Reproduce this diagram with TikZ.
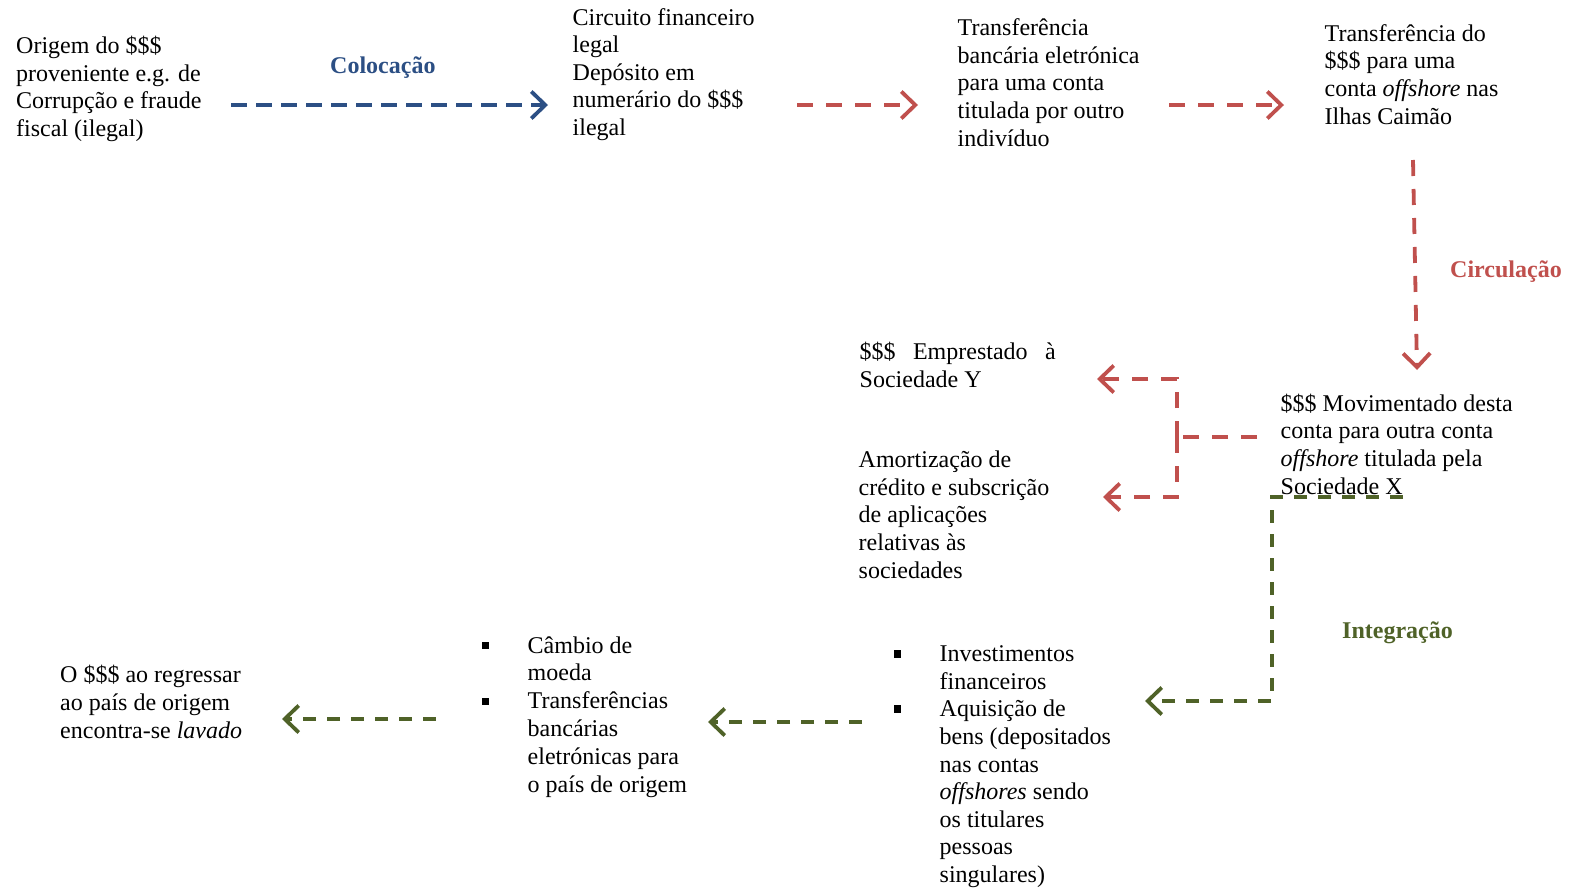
\documentclass[tikz,border=0pt]{standalone}
\usepackage{fontspec}
\setmainfont{Liberation Serif}
\usetikzlibrary{arrows.meta}
\definecolor{cblue}{HTML}{2C4F84}
\definecolor{cred}{HTML}{C0504D}
\definecolor{cgreen}{HTML}{4F6228}
\newcommand\bulA{\llap{\raisebox{4pt}{\rule{7pt}{7.5pt}}\hspace{39pt}}}
\newcommand\bulB{\llap{\raisebox{3.7pt}{\rule{7pt}{7.5pt}}\hspace{39pt}}}
\begin{document}
\begin{tikzpicture}[x=1pt,y=-1pt,
  txt/.style={anchor=base west, inner sep=0pt, align=left, font=\fontsize{24}{27.6}\selectfont},
  lbl/.style={anchor=base west, inner sep=0pt, font=\fontsize{24}{27.6}\selectfont\bfseries},
  arr/.style={line width=3.8pt, -{Straight Barb[length=14pt,width=27pt]}},
  bluedash/.style={cblue, dash pattern=on 16pt off 9pt},
  reddash/.style={cred, dash pattern=on 16pt off 13pt},
  greendash/.style={cgreen, dash pattern=on 13pt off 11pt}]
\useasboundingbox (0,0) rectangle (1573,889);

% texts (anchored at the baseline of their last line)
\node[txt] (orig) at (16,136.5) {Origem do \$\$\$\\proveniente e.g. de\\Corrupção e fraude\\fiscal (ilegal)};
\node[txt] (circ) at (572.5,135.5) {Circuito financeiro\\legal\\Depósito em\\numerário do \$\$\$\\ilegal};
\node[txt] (transf) at (957.5,146) {Transferência\\bancária eletrónica\\para uma conta\\titulada por outro\\indivíduo};
\node[txt] (cayman) at (1324.5,124) {Transferência do\\\$\$\$ para uma\\conta \textit{offshore} nas\\Ilhas Caimão};
\node[txt] (emp) at (859.5,387) {\makebox[196pt][s]{\$\$\$ Emprestado à}\\Sociedade Y};
\node[txt] (mov) at (1280.5,494) {\$\$\$ Movimentado desta\\conta para outra conta\\\textit{offshore} titulada pela\\Sociedade X};
\node[txt] (amort) at (858.5,578) {Amortização de\\crédito e subscrição\\de aplicações\\relativas às\\sociedades};
\node[txt] (invest) at (939.5,882.5) {\bulA Investimentos\\financeiros\\\bulA Aquisição de\\bens (depositados\\nas contas\\\textit{offshores} sendo\\os titulares\\pessoas\\singulares)};
\node[txt, font=\fontsize{24}{27.9}\selectfont] (cambio) at (527.5,792.5) {\bulB Câmbio de\\moeda\\\bulB Transferências\\bancárias\\eletrónicas para\\o país de origem};
\node[txt] (lavado) at (60,738) {O \$\$\$ ao regressar\\ao país de origem\\encontra-se \textit{lavado}};

% stage labels
\node[lbl, text=cblue] (coloc) at (330,73) {Colocação};
\node[lbl, text=cred] (circul) at (1450,277.5) {Circulação};
\node[lbl, text=cgreen] (integ) at (1342,638) {Integração};

% connector end points
\coordinate (b1s) at (231,105);  \coordinate (b1e) at (548,105);
\coordinate (r1s) at (797,105);  \coordinate (r1e) at (918,105);
\coordinate (r2s) at (1169,105); \coordinate (r2e) at (1284,105);
\coordinate (r3s) at (1413,160); \coordinate (r3e) at (1417,370);
\coordinate (r4s) at (1257,437); \coordinate (rj) at (1177,437);
\coordinate (r4a) at (1097,379); \coordinate (r4b) at (1103,497);
\coordinate (g1s) at (1403,497); \coordinate (g1c) at (1272,701); \coordinate (g1e) at (1145,701);
\coordinate (g2s) at (862,722);  \coordinate (g2e) at (708,722);
\coordinate (g3s) at (436,719);  \coordinate (g3e) at (282,719);

% connectors
\draw[arr, bluedash] (b1s) -- (b1e);
\draw[arr, reddash] (r1s) -- (r1e);
\draw[arr, reddash] (r2s) -- (r2e);
\draw[arr, reddash] (r3s) -- (r3e);
\draw[line width=3.8pt, reddash] (r4s) -- (rj);
\draw[arr, reddash] (rj) |- (r4a);
\draw[arr, reddash] (rj) |- (r4b);
\draw[arr, greendash] (g1s) -| (g1c) -- (g1e);
\draw[arr, greendash] (g2s) -- (g2e);
\draw[arr, greendash] (g3s) -- (g3e);
\end{tikzpicture}
\end{document}
